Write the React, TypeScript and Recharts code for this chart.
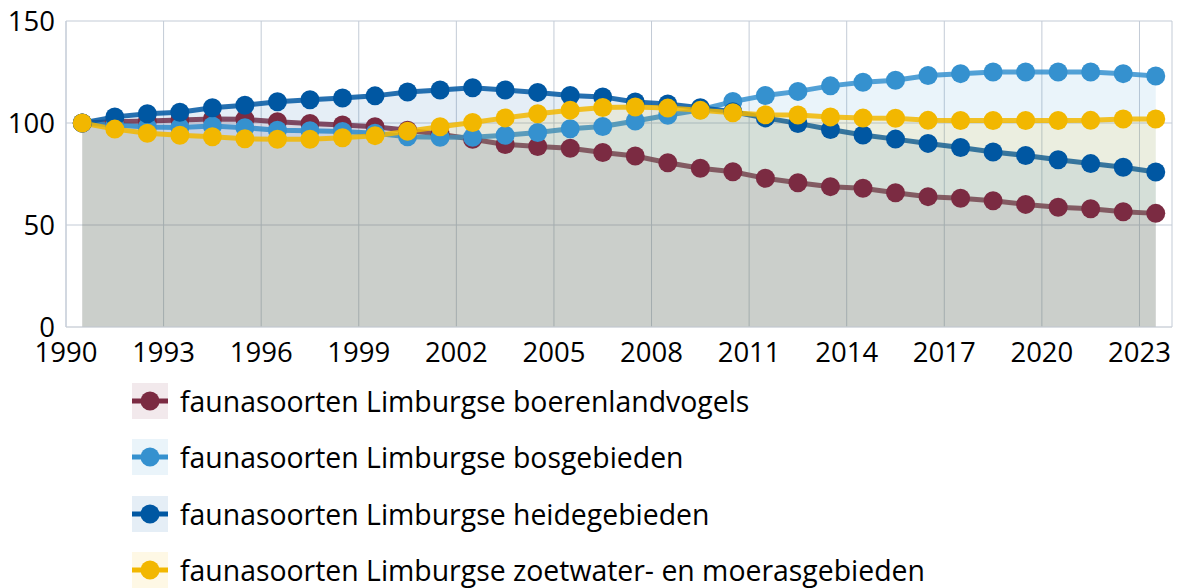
import React from "react";
import { Area, AreaChart, CartesianGrid, XAxis, YAxis } from "recharts";

// index values per year (1990 = 100)
const years = [
  1990, 1991, 1992, 1993, 1994, 1995, 1996, 1997, 1998, 1999,
  2000, 2001, 2002, 2003, 2004, 2005, 2006, 2007, 2008, 2009,
  2010, 2011, 2012, 2013, 2014, 2015, 2016, 2017, 2018, 2019,
  2020, 2021, 2022, 2023,
];

const boerenland = [
  100, 100.6, 101, 101.5, 102, 101.8, 100.6, 99.8, 99, 98.2,
  96.5, 94.5, 92, 89.5, 88.5, 87.6, 85.5, 83.8, 80.5, 77.8,
  76.1, 72.9, 70.7, 68.8, 68, 65.8, 63.9, 63.1, 61.9, 60.1,
  58.7, 58, 56.5, 55.7,
];

const bos = [
  100, 99, 98, 97.8, 98.5, 97.7, 96.5, 96.2, 95.8, 95,
  93.3, 93, 93, 94, 95.3, 97.2, 98.3, 101, 103.8, 106.5,
  110.5, 113.5, 115.5, 118.2, 120, 121, 123.3, 124.2, 125, 125,
  125, 125, 124.2, 123,
];

const heide = [
  100, 103, 104.5, 105.3, 107.5, 108.7, 110.4, 111.4, 112.3, 113.3,
  115.2, 116.2, 117.3, 116.2, 115, 113.5, 112.8, 110.3, 109.3, 107.5,
  105.5, 102.5, 99.8, 96.8, 94.1, 92.1, 90, 88, 85.8, 84.1,
  82, 80.1, 78.3, 76,
];

const zoetwater = [
  100, 97, 95, 94, 93.3, 92.3, 92, 92, 92.8, 93.8,
  96, 98.2, 100.2, 102.5, 104.5, 106.3, 107.6, 107.8, 107.3, 106.2,
  105, 104, 103.9, 103, 102.4, 102.3, 101.3, 101.2, 101.2, 101.2,
  101.2, 101.3, 102, 102,
];

const xTicks = [1990, 1993, 1996, 1999, 2002, 2005, 2008, 2011, 2014, 2017, 2020, 2023];
const yTicks = [0, 50, 100, 150];

const series = [
  { key: "boerenland", name: "faunasoorten Limburgse boerenlandvogels", color: "#7B2B42" },
  { key: "bos", name: "faunasoorten Limburgse bosgebieden", color: "#3591CF" },
  { key: "heide", name: "faunasoorten Limburgse heidegebieden", color: "#0057A2" },
  { key: "zoetwater", name: "faunasoorten Limburgse zoetwater- en moerasgebieden", color: "#F2B700" },
];

// points sit in the middle of each year
const data = years.map((y, i) => ({
  x: y + 0.5,
  boerenland: boerenland[i],
  bos: bos[i],
  heide: heide[i],
  zoetwater: zoetwater[i],
}));

const gridColor = "#C3CBD6";
const font = "'Open Sans', sans-serif";

function LegendBlock() {
  return (
    <div style={{ position: "absolute", left: 132, top: 383 }}>
      {series.map((s) => (
        <div key={s.key} style={{ display: "flex", alignItems: "center", height: 56.3 }}>
          <svg width={36} height={36} style={{ display: "block", alignSelf: "flex-start" }}>
            <rect x={0} y={0} width={36} height={36} fill={s.color} fillOpacity={0.1} />
            <line x1={0} y1={18} x2={36} y2={18} stroke={s.color} strokeWidth={5} />
            <circle cx={18} cy={18} r={9.5} fill={s.color} />
          </svg>
          <span
            style={{
              marginLeft: 12,
              fontSize: 28.4,
              lineHeight: "36px",
              alignSelf: "flex-start",
              color: "#000",
              whiteSpace: "nowrap",
            }}
          >
            {s.name}
          </span>
        </div>
      ))}
    </div>
  );
}

export default function App() {
  return (
    <div
      style={{
        position: "absolute",
        left: 0,
        top: 0,
        width: 1177,
        height: 588,
        background: "#fff",
        fontFamily: font,
        overflow: "hidden",
      }}
    >
      <AreaChart
        width={1177}
        height={370}
        data={data}
        margin={{ top: 21, right: 5, bottom: 0, left: 0 }}
      >
        <CartesianGrid stroke={gridColor} strokeWidth={1} />
        <XAxis
          type="number"
          dataKey="x"
          domain={[1990, 2024]}
          ticks={xTicks}
          interval={0}
          height={43}
          tickLine={false}
          tickSize={0}
          tickMargin={15}
          axisLine={{ stroke: "#D3D7DC" }}
          tick={{ fontSize: 27.5, fill: "#000" }}
          allowDataOverflow
        />
        <YAxis
          domain={[0, 150]}
          ticks={yTicks}
          interval={0}
          width={66}
          tickLine={false}
          tickSize={0}
          tickMargin={11}
          axisLine={{ stroke: gridColor }}
          tick={{ fontSize: 27.5, fill: "#000" }}
        />
        {series.map((s) => (
          <Area
            key={s.key}
            type="linear"
            dataKey={s.key}
            name={s.name}
            stroke={s.color}
            strokeWidth={5}
            strokeOpacity={0.85}
            fill={s.color}
            fillOpacity={0.1}
            dot={{ r: 9.5, fill: s.color, stroke: "none", fillOpacity: 1, strokeOpacity: 0 }}
            activeDot={false}
            isAnimationActive={false}
          />
        ))}
      </AreaChart>
      <LegendBlock />
    </div>
  );
}
